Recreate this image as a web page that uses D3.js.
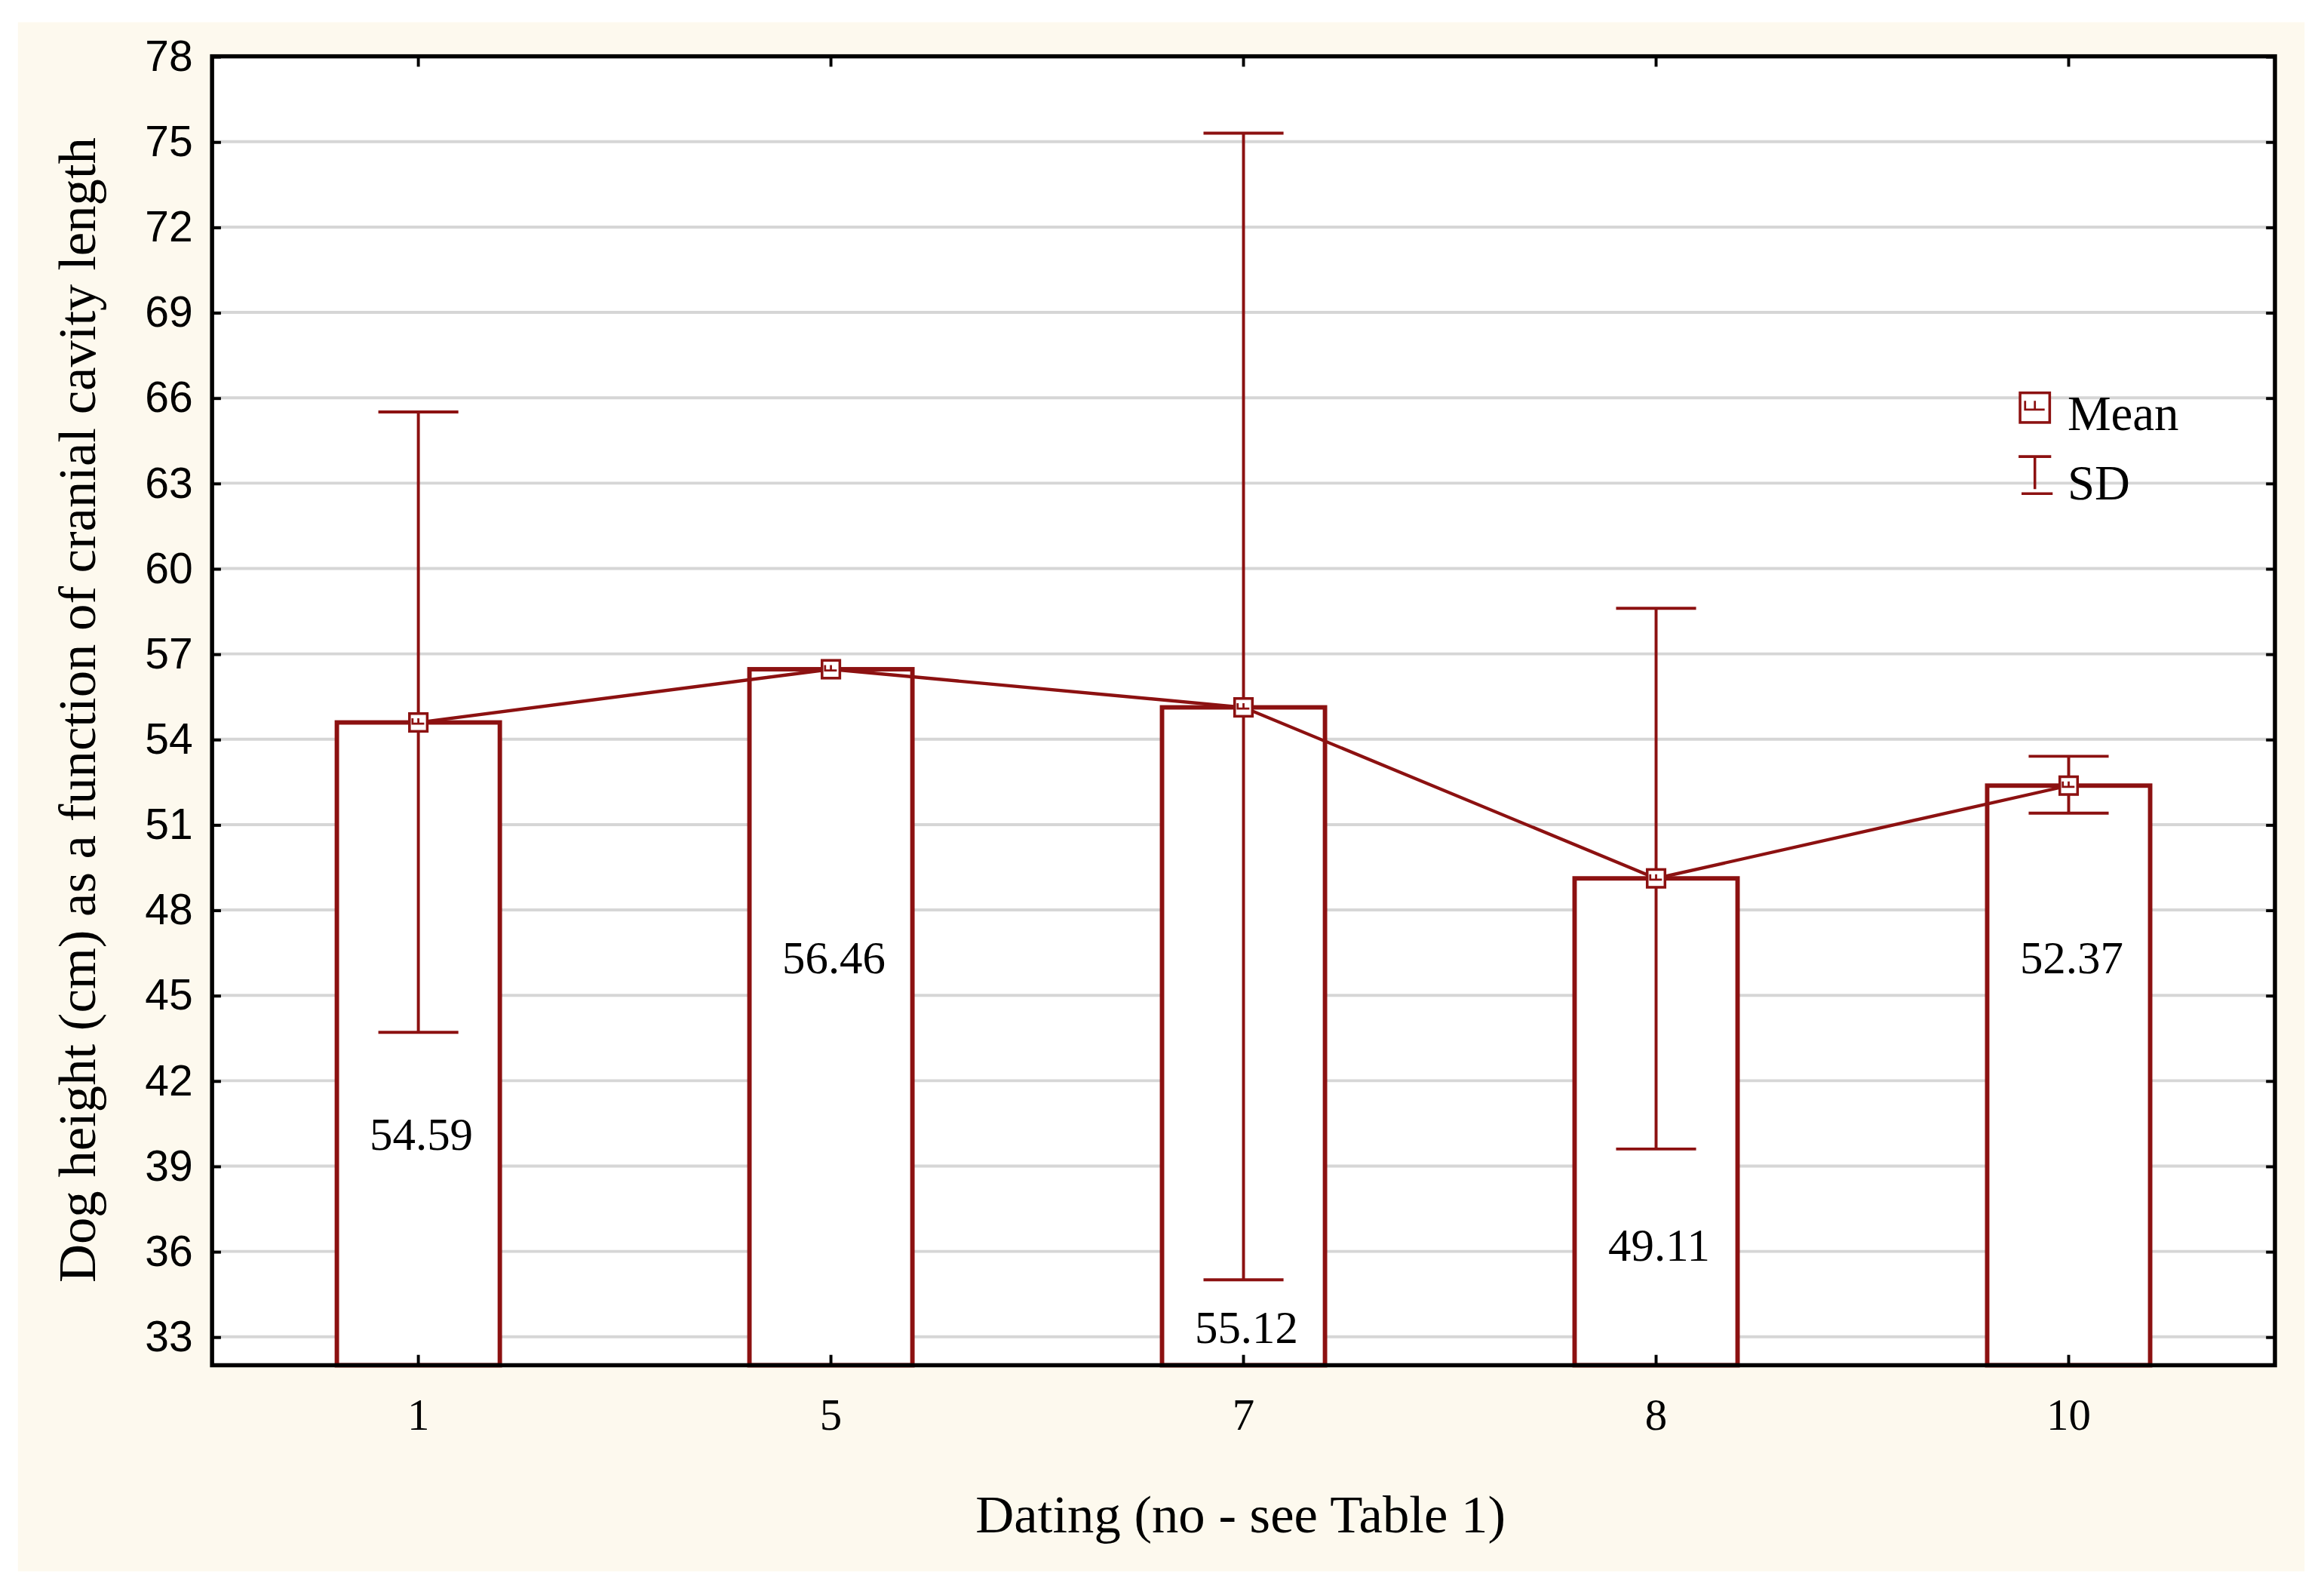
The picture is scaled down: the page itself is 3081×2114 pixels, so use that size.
<!DOCTYPE html>
<html><head><meta charset="utf-8">
<script src="https://cdn.jsdelivr.net/npm/d3@7/dist/d3.min.js"></script>
<style>body{margin:0;background:#fff}</style></head>
<body><svg id="c" width="3081" height="2114" viewBox="0 0 1568 1076"></svg>
<script>
const categories = ["1","5","7","8","10"];
const means = [54.59, 56.46, 55.12, 49.11, 52.37];
const sdLow = [43.7, 56.46, 35.0, 39.6, 51.4];
const sdHigh = [65.5, 56.46, 75.3, 58.6, 53.4];
const labelPos = [40.1, 46.3, 33.3, 36.2, 46.3];
const yTicks = [33,36,39,42,45,48,51,54,57,60,63,66,69,72,75,78];
const red = "#8c1111";
const svg = d3.select("#c");
svg.append("rect").attr("x",12).attr("y",15).attr("width",1543).attr("height",1045).attr("fill","#fdf9ee");
const L=143,R=1535,T=38,B=921;
svg.append("rect").attr("x",L).attr("y",T).attr("width",R-L).attr("height",B-T).attr("fill","#fff");
const x = d3.scaleBand().domain(categories).range([L,R]);
const y = d3.scaleLinear().domain([32,78]).range([B,T]);
const bw = x.bandwidth()*0.395;
svg.append("g").selectAll("line").data(yTicks).join("line")
 .attr("x1",L).attr("x2",R).attr("y1",d=>y(d)).attr("y2",d=>y(d)).attr("stroke","#d6d6d6").attr("stroke-width",2);
svg.append("g").selectAll("rect").data(means).join("rect")
 .attr("x",(d,i)=>x(categories[i])+x.bandwidth()/2-bw/2).attr("y",d=>y(d))
 .attr("width",bw).attr("height",d=>B-y(d)).attr("fill","#fff").attr("stroke",red).attr("stroke-width",3);
const eb = svg.append("g").attr("stroke",red).attr("stroke-width",2);
categories.forEach((c,i)=>{
  const cx=x(c)+x.bandwidth()/2;
  if(sdHigh[i]-sdLow[i]>0.01){
    eb.append("line").attr("x1",cx).attr("x2",cx).attr("y1",y(sdLow[i])).attr("y2",y(sdHigh[i]));
    [sdLow[i],sdHigh[i]].forEach(v=>eb.append("line").attr("x1",cx-27).attr("x2",cx+27).attr("y1",y(v)).attr("y2",y(v)));
  }
});
svg.append("path").datum(means).attr("fill","none").attr("stroke",red).attr("stroke-width",2.2)
 .attr("d",d3.line().x((d,i)=>x(categories[i])+x.bandwidth()/2).y(d=>y(d)));
function marker(g,cx,cy,s){
  g.append("rect").attr("x",cx-s).attr("y",cy-s).attr("width",2*s).attr("height",2*s).attr("fill","#fff").attr("stroke",red).attr("stroke-width",1.8);
  const a=s*0.66;
  g.append("path").attr("d",`M${cx-a},${cy-a*0.7}V${cy+a*0.2}H${cx+a}M${cx},${cy-a*0.7}V${cy+a*0.2}`).attr("fill","none").attr("stroke",red).attr("stroke-width",1.4);
}
const mg=svg.append("g");
means.forEach((m,i)=>marker(mg,x(categories[i])+x.bandwidth()/2,y(m),6));
svg.append("g").selectAll("text").data(means).join("text")
 .attr("x",(d,i)=>x(categories[i])+x.bandwidth()/2+2).attr("y",(d,i)=>y(labelPos[i])+10)
 .attr("text-anchor","middle").attr("font-family","Liberation Serif").attr("font-size",31).text(d=>d.toFixed(2));
const ya=d3.axisLeft(y).tickValues(yTicks).tickSize(-6).tickPadding(13);
const yg=svg.append("g").attr("transform",`translate(${L},0)`).call(ya);
yg.selectAll("text").attr("font-family","Liberation Sans Narrow, Liberation Sans").attr("font-size",29).attr("fill","#000");
yg.select(".domain").remove();
const yr=svg.append("g").attr("transform",`translate(${R},0)`).call(d3.axisRight(y).tickValues(yTicks).tickSize(-6).tickFormat(""));
yr.select(".domain").remove();
const xa=d3.axisBottom(x).tickSize(-7).tickPadding(22);
const xg=svg.append("g").attr("transform",`translate(0,${B})`).call(xa);
xg.selectAll("text").attr("font-family","Liberation Serif").attr("font-size",30).attr("fill","#000");
xg.select(".domain").remove();
const xt=svg.append("g").attr("transform",`translate(0,${T})`).call(d3.axisTop(x).tickSize(-7).tickFormat(""));
xt.select(".domain").remove();
svg.selectAll(".tick line").attr("stroke","#000").attr("stroke-width",2);
svg.append("rect").attr("x",L).attr("y",T).attr("width",R-L).attr("height",B-T).attr("fill","none").attr("stroke","#000").attr("stroke-width",2.8);
svg.append("text").attr("x",837).attr("y",1034).attr("text-anchor","middle").attr("font-family","Liberation Serif").attr("font-size",36).text("Dating (no - see Table 1)");
svg.append("text").attr("transform",`translate(64,${479}) rotate(-90)`).attr("text-anchor","middle").attr("font-family","Liberation Serif").attr("font-size",36).text("Dog height (cm) as a function of cranial cavity length");
const lg=svg.append("g");
marker(lg,1373,275,10);
lg.append("text").attr("x",1395).attr("y",290).attr("font-family","Liberation Serif").attr("font-size",33).text("Mean");
lg.append("path").attr("d","M1362,308H1384M1373,308V330M1364,333H1385").attr("stroke",red).attr("stroke-width",1.8).attr("fill","none");
lg.append("text").attr("x",1395).attr("y",337).attr("font-family","Liberation Serif").attr("font-size",33).text("SD");
</script></body></html>
